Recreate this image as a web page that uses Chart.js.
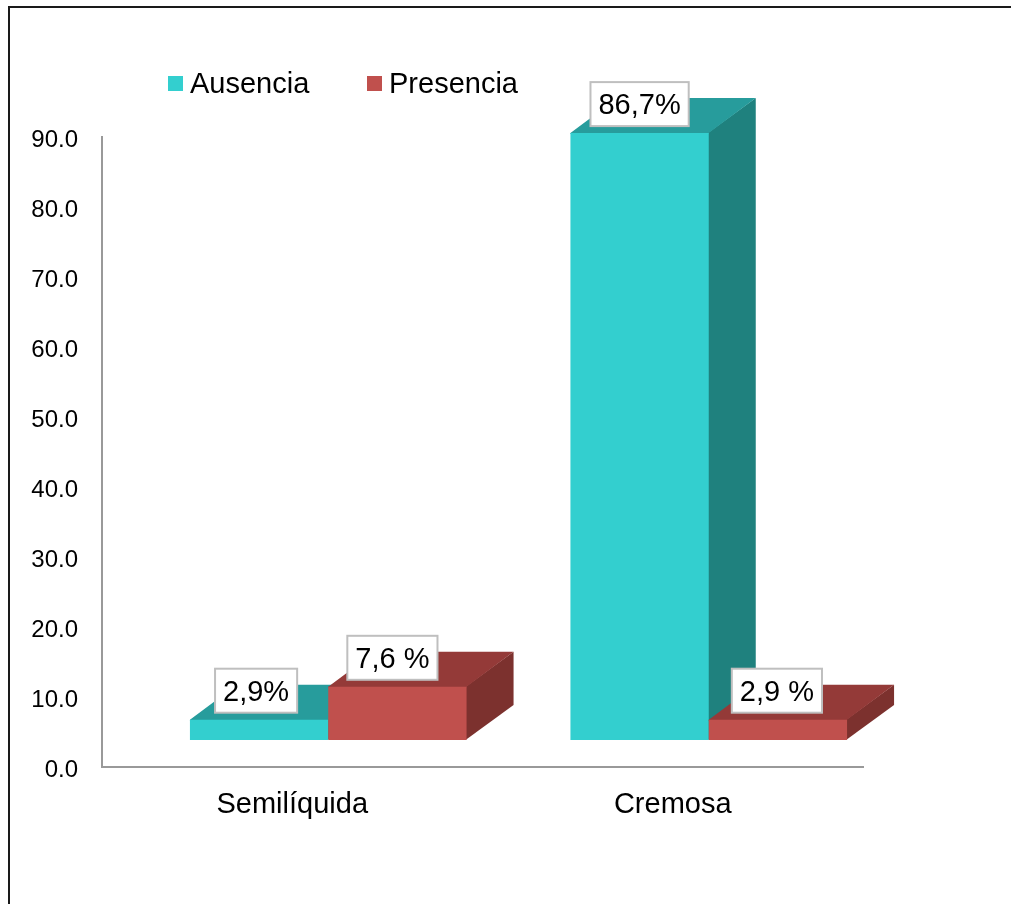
<!DOCTYPE html>
<html>
<head>
<meta charset="utf-8">
<title>Ausencia / Presencia</title>
<script src="https://cdn.jsdelivr.net/npm/chart.js@4"></script>
<style>
  html, body { margin: 0; padding: 0; background: #fff; overflow: hidden; }
  #frame { position: absolute; left: 8px; top: 6px; width: 1100px; height: 1000px; border-left: 2px solid #1a1a1a; border-top: 2px solid #1a1a1a; }
  #myChart { position: absolute; left: 0; top: 0; }
</style>
</head>
<body>
<div id="frame"></div>
<canvas id="myChart" width="1011" height="904"></canvas>
<script>
const categories = ['Semilíquida', 'Cremosa'];
const ausencia = [2.9, 86.7];
const presencia = [7.6, 2.9];
const ausenciaLabels = ['2,9%', '86,7%'];
const presenciaLabels = ['7,6 %', '2,9 %'];
const yTicks = [0, 10, 20, 30, 40, 50, 60, 70, 80, 90];

const FONT = '"Liberation Sans", Arial, sans-serif';
// front, top and side face of each series
const teal = ['#33CFCF', '#279C9C', '#1F817E'];
const red = ['#C0504D', '#943A38', '#7C312E'];

// the floor of the 3D box sits up and to the right of the axes
const shiftX = 36;
const shiftY = -27;
const depthX = 47;
const depthY = -35;
const labelNudge = [[-3, 0], [-5, -1]];

const bars3d = {
  id: 'bars3d',
  afterLayout(chart) {
    // y tick text sits a little below the tick position in the original
    chart.scales.y.getLabelItems().forEach(item => { item.options.translation[1] += 3; });
  },
  beforeDatasetsDraw(chart) {
    const ctx = chart.ctx;
    ctx.save();
    ctx.translate(shiftX, shiftY);
    chart.data.datasets.forEach((ds, d) => {
      chart.getDatasetMeta(d).data.forEach(el => {
        const left = el.x - el.width / 2;
        const right = el.x + el.width / 2;
        const faces = ds.faces;
        // side
        ctx.fillStyle = faces[2];
        ctx.beginPath();
        ctx.moveTo(right - 1, el.y);
        ctx.lineTo(right + depthX, el.y + depthY);
        ctx.lineTo(right + depthX, el.base + depthY);
        ctx.lineTo(right - 1, el.base);
        ctx.closePath();
        ctx.fill();
        // top, runs 1px under the front face so no seam shows
        ctx.fillStyle = faces[1];
        ctx.beginPath();
        ctx.moveTo(left, el.y + 1);
        ctx.lineTo(left, el.y);
        ctx.lineTo(left + depthX, el.y + depthY);
        ctx.lineTo(right + depthX, el.y + depthY);
        ctx.lineTo(right, el.y);
        ctx.lineTo(right, el.y + 1);
        ctx.closePath();
        ctx.fill();
        el.draw(ctx);
      });
    });
    // value boxes
    ctx.font = '29px ' + FONT;
    ctx.textAlign = 'center';
    ctx.textBaseline = 'middle';
    chart.data.datasets.forEach((ds, d) => {
      chart.getDatasetMeta(d).data.forEach((el, i) => {
        const text = ds.valueLabels[i];
        const w = ctx.measureText(text).width + 16;
        const cx = el.x + labelNudge[d][i];
        const cy = el.y - 29;
        ctx.fillStyle = '#fff';
        ctx.fillRect(cx - w / 2, cy - 22, w, 44);
        ctx.strokeStyle = '#BFBFBF';
        ctx.lineWidth = 2;
        ctx.strokeRect(cx - w / 2, cy - 22, w, 44);
        ctx.fillStyle = '#000';
        ctx.fillText(text, cx, cy + 2);
      });
    });
    ctx.restore();
    return false;
  },
  afterDraw(chart) {
    // legend, placed by hand above the plot
    const ctx = chart.ctx;
    const xs = [168, 367];
    ctx.save();
    ctx.font = '29px ' + FONT;
    ctx.textAlign = 'left';
    ctx.textBaseline = 'middle';
    chart.data.datasets.forEach((ds, d) => {
      ctx.fillStyle = ds.backgroundColor;
      ctx.fillRect(xs[d], 76, 15, 15);
      ctx.fillStyle = '#000';
      ctx.fillText(ds.label, xs[d] + 22, 85);
    });
    ctx.restore();
  }
};

new Chart(document.getElementById('myChart').getContext('2d'), {
  type: 'bar',
  data: {
    labels: categories,
    datasets: [
      { label: 'Ausencia', data: ausencia, backgroundColor: teal[0], faces: teal, valueLabels: ausenciaLabels },
      { label: 'Presencia', data: presencia, backgroundColor: red[0], faces: red, valueLabels: presenciaLabels }
    ]
  },
  plugins: [bars3d],
  options: {
    responsive: false,
    animation: false,
    categoryPercentage: 0.727,
    barPercentage: 1,
    layout: { padding: { left: 0, right: 148, top: 137, bottom: 77 } },
    plugins: { legend: { display: false }, tooltip: { enabled: false } },
    scales: {
      x: {
        grid: { display: false },
        border: { color: '#999999', width: 2 },
        afterFit(scale) { scale.height = 60; },
        ticks: { color: '#000', padding: 13, font: { family: FONT, size: 29 } }
      },
      y: {
        min: 0,
        max: 90,
        grid: { display: false },
        border: { color: '#999999', width: 2 },
        afterFit(scale) { scale.width = 102; },
        afterBuildTicks(scale) { scale.ticks = yTicks.map(v => ({ value: v })); },
        ticks: {
          color: '#000',
          padding: 16,
          font: { family: FONT, size: 24 },
          callback: v => v.toFixed(1)
        }
      }
    }
  }
});
</script>
</body>
</html>
